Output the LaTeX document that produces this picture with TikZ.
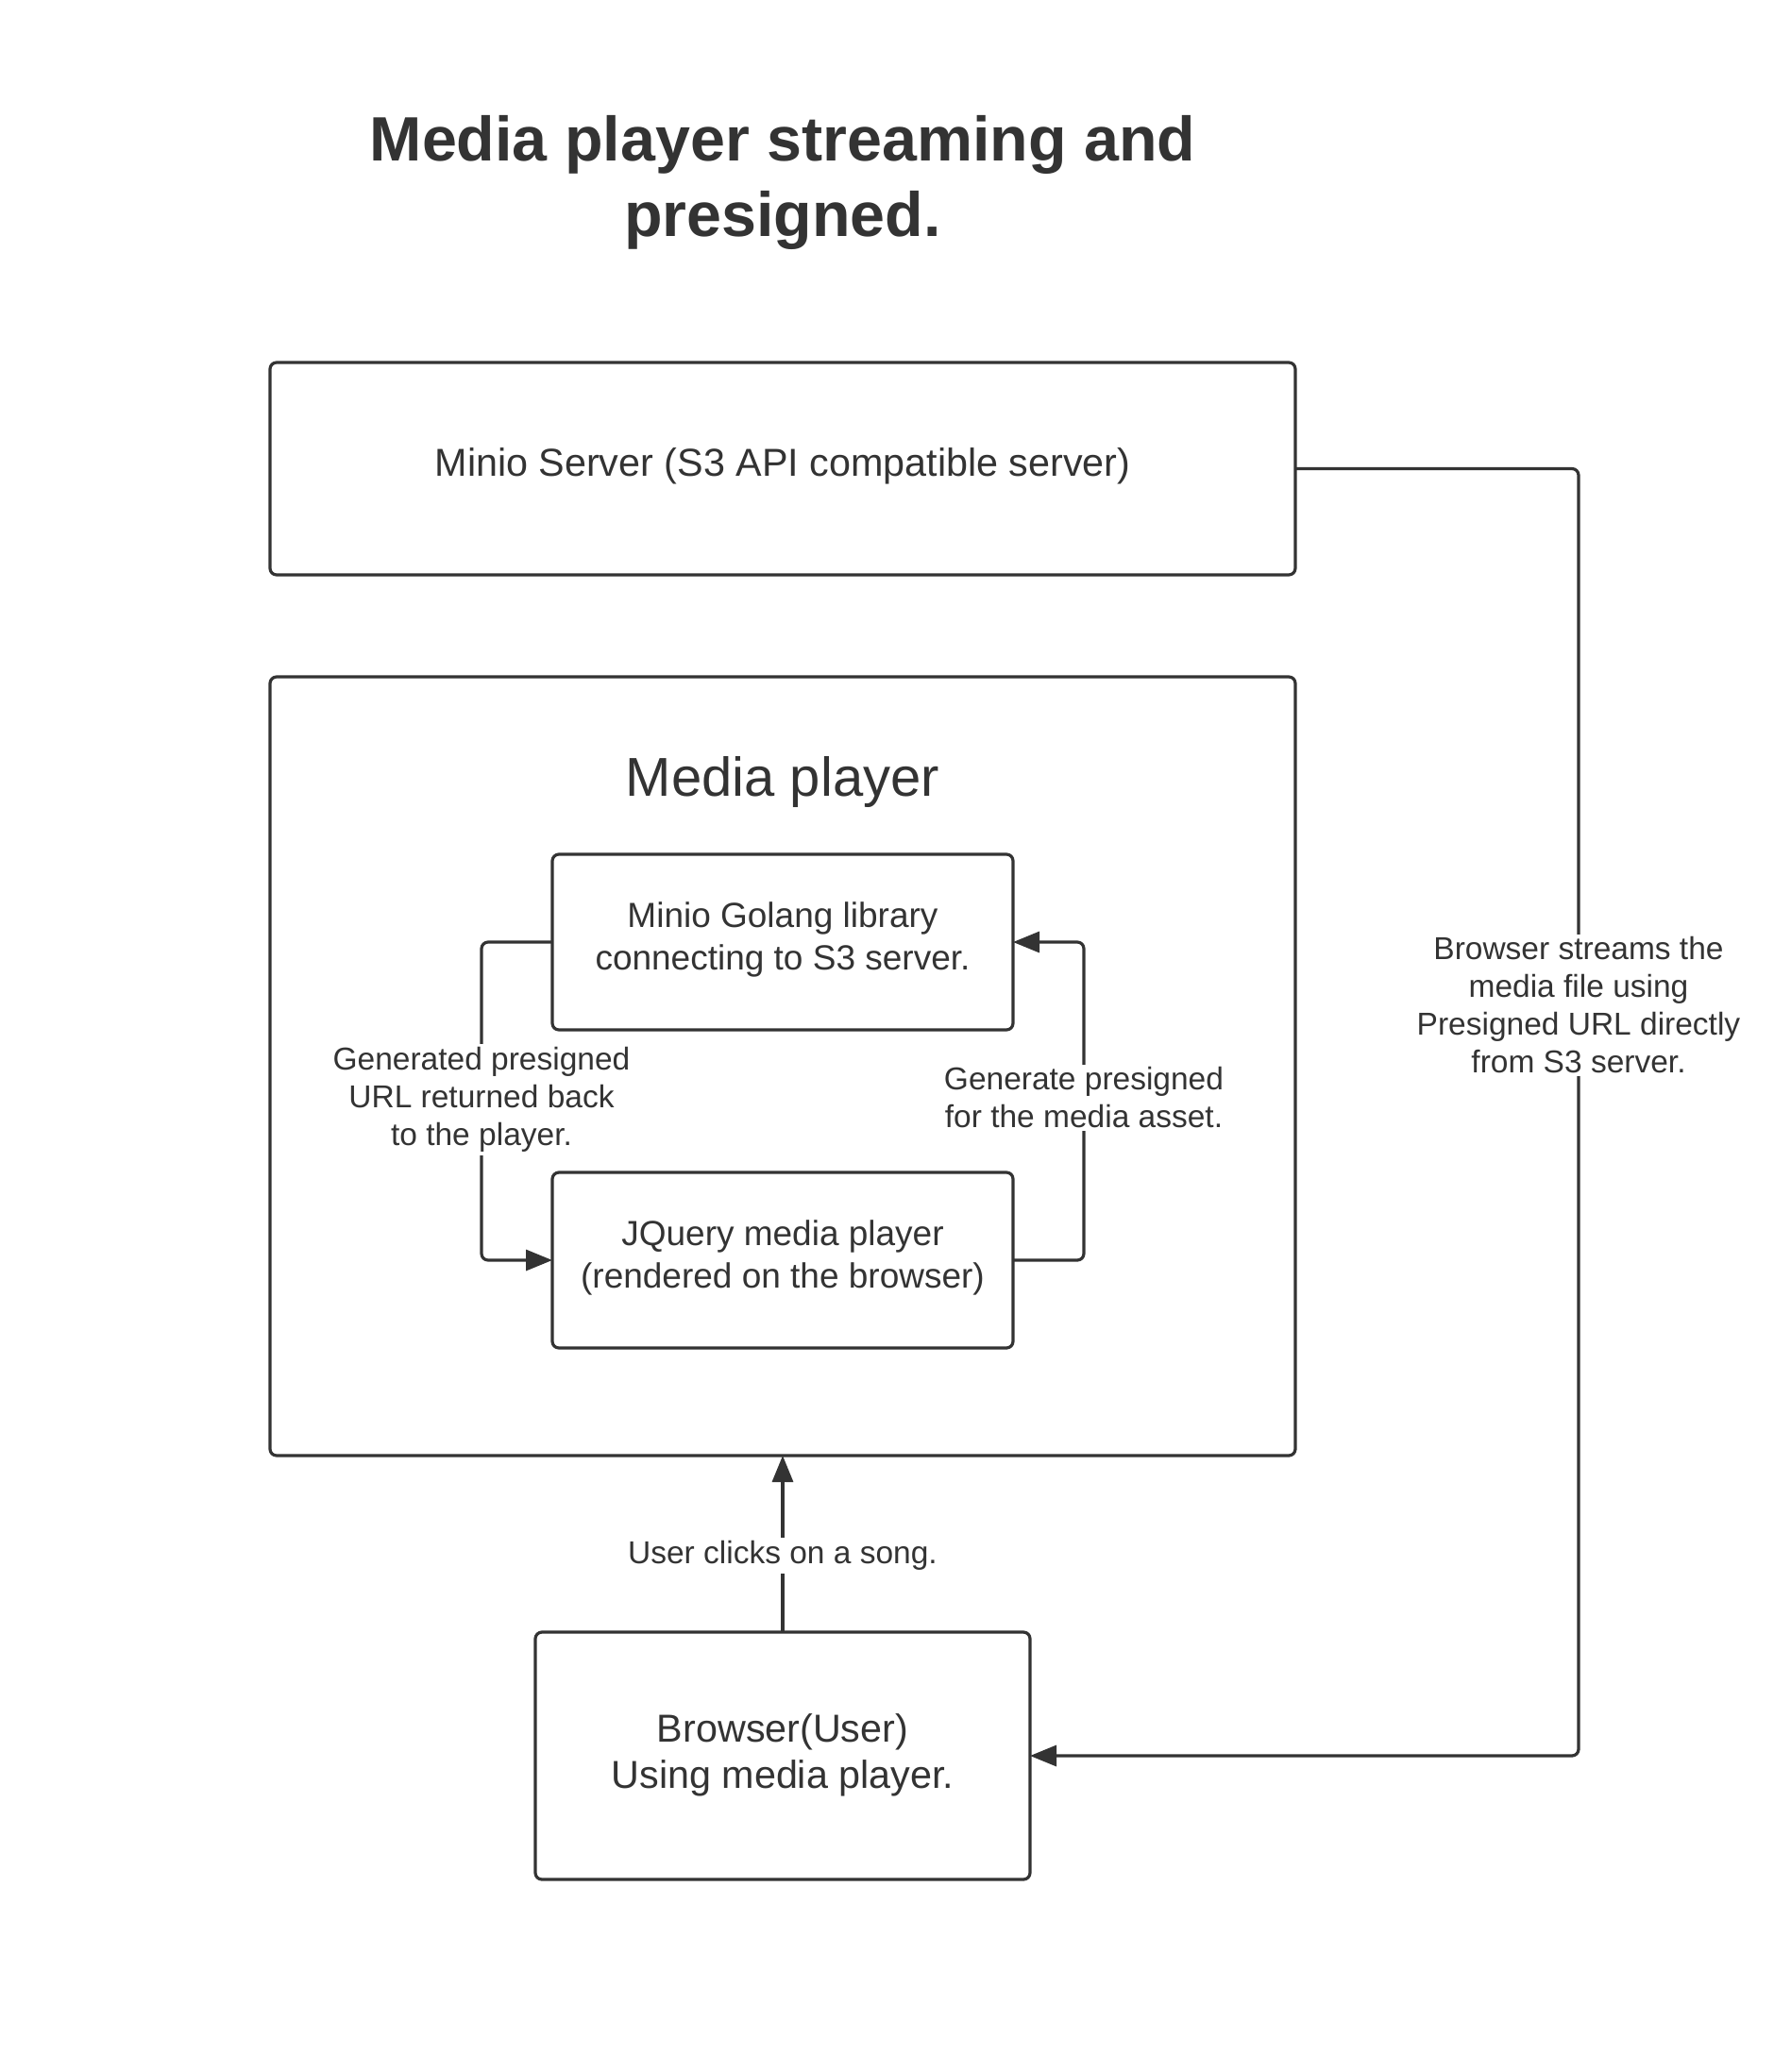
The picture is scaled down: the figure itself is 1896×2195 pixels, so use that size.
\documentclass[tikz,border=0pt]{standalone}
\usepackage{fontspec}
\setmainfont{Liberation Sans}
\usetikzlibrary{arrows.meta}
\definecolor{ink}{HTML}{333333}
\begin{document}
\begin{tikzpicture}[x=1pt,y=-1pt,
  box/.style={draw=ink, line width=3.2pt, rounded corners=7pt, inner sep=0pt, outer sep=0pt, align=center, text=ink},
  conn/.style={draw=ink, line width=3.2pt, rounded corners=7pt, -{Triangle[length=28pt,width=22pt]}},
  lbl/.style={fill=white, text=ink, font=\fontsize{33.5}{40}\selectfont, align=center, inner sep=3pt}
]
\fill[white] (0,0) rectangle (1896,2195);
\useasboundingbox (0,0) rectangle (1896,2195);

\node[text=ink, font=\bfseries\fontsize{66.4}{80}\selectfont, align=center] (title) at (829,193) {Media player streaming and\\presigned.};

\node[box, minimum width=1086pt, minimum height=225pt] (minio) at (829,496.5) {};
\node[text=ink, font=\fontsize{41.3}{50}\selectfont] (miniotext) at (829,493.5) {Minio Server (S3 API compatible server)};
\node[box, minimum width=1086pt, minimum height=825pt] (mp) at (829,1129.5) {};
\node[text=ink, font=\fontsize{58}{70}\selectfont] (mptitle) at (829,828) {Media player};
\node[box, minimum width=488pt, minimum height=186pt] (gol) at (829,998) {};
\node[text=ink, align=center, font=\fontsize{37}{45}\selectfont] (goltext) at (829,995) {Minio Golang library\\connecting to S3 server.};
\node[box, minimum width=488pt, minimum height=186pt] (jq) at (829,1335) {};
\node[text=ink, align=center, font=\fontsize{37}{45}\selectfont] (jqtext) at (829,1332) {JQuery media player\\(rendered on the browser)};
\node[box, minimum width=524pt, minimum height=262pt] (br) at (829,1860) {};
\node[text=ink, align=center, font=\fontsize{41.3}{49}\selectfont] (brtext) at (829,1859) {Browser(User)\\Using media player.};

\coordinate (lc) at (510,998);
\coordinate (rc) at (1148,1335);
\coordinate (fc) at (1672,496.5);

\draw[conn] (gol.west) -- (lc) |- (jq.west);
\draw[conn] (jq.east) -- (rc) |- (gol.east);
\draw[conn] (minio.east) -- (fc) |- (br.east);
\draw[conn] (br.north) -- (mp.south);

\node[lbl] (l1) at (510,1165) {Generated presigned\\URL returned back\\to the player.};
\node[lbl] (l2) at (1148,1163) {Generate presigned\\for the media asset.};
\node[lbl] (l3) at (1672,1065) {Browser streams the\\media file using\\Presigned URL directly\\from S3 server.};
\node[lbl] (l4) at (829,1648) {User clicks on a song.};
\end{tikzpicture}
\end{document}
